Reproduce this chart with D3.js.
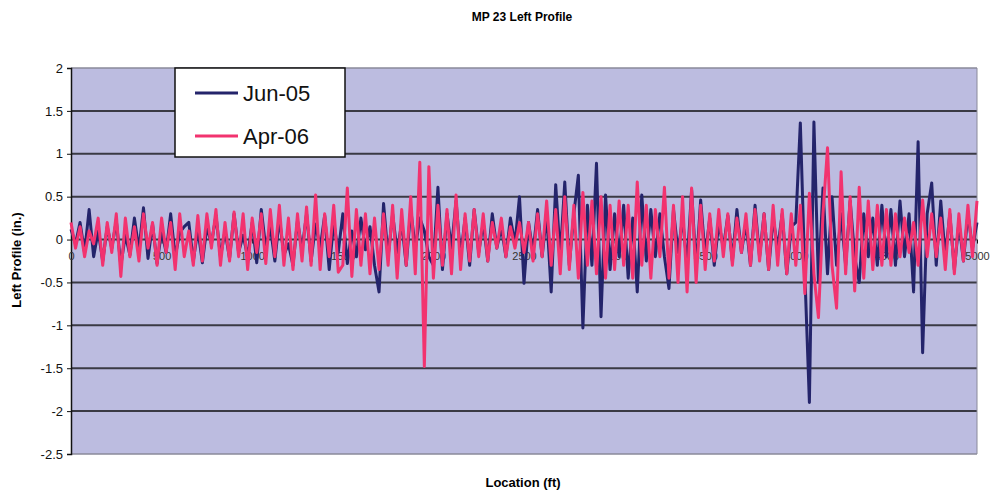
<!DOCTYPE html>
<html><head><meta charset="utf-8">
<script src="https://cdn.jsdelivr.net/npm/d3@7"></script>
<style>body{margin:0;background:#fff}svg{display:block}</style>
</head><body>
<svg id="chart" width="990" height="491"></svg>
<script>
const title = "MP 23 Left Profile";
const xTitle = "Location (ft)";
const yTitle = "Left Profile (in.)";
const seriesNames = ["Jun-05", "Apr-06"];
const xStep = 25; // ft between samples
const xTicks = [0, 500, 1000, 1500, 2000, 2500, 3000, 3500, 4000, 4500, 5000];
const yTicks = [2, 1.5, 1, 0.5, 0, -0.5, -1, -1.5, -2, -2.5];

const jun05 = [
  0.12,-0.05,0.2,-0.15,0.35,-0.2,0.1,-0.25,0.15,-0.1,
  0.22,-0.3,0.05,-0.18,0.25,-0.12,0.37,-0.22,0.18,-0.28,
  0.1,-0.15,0.3,-0.2,0.08,0.15,0.2,-0.25,0.12,-0.27,
  0.15,-0.05,0.28,-0.2,0.1,-0.22,0.3,-0.15,0.05,-0.2,
  0.2,-0.27,0.35,-0.1,0.15,-0.25,0.25,-0.18,-0.05,-0.3,
  0.22,-0.12,0.3,-0.25,0.18,-0.1,0.28,-0.35,0.2,-0.15,
  0.3,-0.28,0.1,-0.2,0.25,-0.12,0.15,-0.3,-0.61,0.42,
  -0.2,0.3,-0.15,0.2,-0.3,0.35,-0.1,0.25,0.1,-0.2,
  -0.3,0.61,-0.35,0.3,-0.1,0.45,-0.2,0.25,-0.3,0.35,
  -0.15,0.2,-0.25,0.3,-0.1,0.15,-0.2,0.25,-0.05,0.5,
  -0.51,0.2,-0.15,0.35,-0.2,0.3,-0.61,0.64,-0.2,0.67,
  -0.3,0.3,0.75,-1.03,0.4,-0.3,0.89,-0.9,0.52,-0.35,
  0.3,-0.2,0.4,-0.45,0.25,-0.61,0.52,-0.25,0.35,-0.2,
  0.3,-0.2,-0.57,0.35,-0.15,0.25,-0.3,0.58,-0.35,0.46,
  -0.2,0.25,-0.3,0.2,-0.1,0.28,-0.25,0.35,-0.15,0.2,
  -0.3,0.4,-0.2,0.3,-0.35,0.25,-0.1,0.3,-0.4,0.15,
  0.2,1.36,-0.4,-1.9,1.37,-0.5,0.6,-0.4,0.5,-0.3,
  0.3,-0.3,0.45,-0.2,-0.5,0.3,-0.2,0.25,-0.3,0.4,
  -0.2,0.35,-0.3,0.45,-0.2,0.3,-0.61,1.14,-1.32,0.3,
  0.66,-0.3,0.45,-0.2,0.3,-0.35,0.2,-0.25,0.3,-0.1,0.2
];
const apr06 = [
  0.2,-0.1,0.15,-0.2,0.1,-0.05,0.25,-0.3,0.2,-0.15,
  0.3,-0.43,0.25,-0.2,0.15,-0.25,0.3,-0.1,0.2,-0.3,
  0.25,-0.15,0.2,-0.35,0.3,-0.2,0.1,-0.3,0.28,-0.25,
  0.3,-0.1,0.35,-0.3,0.2,-0.25,0.32,-0.2,0.3,-0.35,
  0.25,-0.15,0.3,-0.28,0.35,-0.2,0.4,-0.3,0.25,-0.35,
  0.3,-0.25,0.38,-0.3,0.52,-0.35,0.3,-0.2,0.4,-0.38,
  -0.3,0.6,-0.43,0.35,-0.3,0.3,-0.4,0.25,-0.35,0.3,
  -0.3,0.4,-0.45,0.35,-0.3,0.5,-0.4,0.9,-1.48,0.85,
  -0.45,0.4,-0.3,0.35,-0.4,0.52,-0.35,0.3,-0.25,0.35,
  -0.2,0.3,-0.25,0.2,-0.1,0.25,-0.2,0.15,-0.1,0.2,
  -0.15,0.2,-0.25,0.3,-0.2,0.45,-0.3,0.35,-0.4,0.5,
  -0.35,0.4,-0.45,0.55,-0.3,0.45,-0.4,0.5,-0.45,0.4,
  -0.35,0.45,-0.3,0.4,-0.45,0.67,-0.3,0.4,-0.45,0.35,
  -0.2,0.61,-0.45,0.4,-0.5,0.5,-0.61,0.6,-0.5,0.4,
  -0.35,0.3,-0.25,0.35,-0.2,0.3,-0.3,0.25,-0.15,0.3,
  -0.3,0.35,-0.25,0.3,-0.35,0.4,-0.3,0.35,-0.4,0.3,
  -0.3,0.4,-0.63,0.54,-0.4,-0.91,0.3,1.07,-0.3,-0.8,
  0.79,-0.4,0.5,-0.6,0.61,-0.45,0.45,-0.35,0.4,-0.3,
  0.35,-0.3,0.3,-0.2,0.25,-0.15,0.2,-0.3,0.46,-0.2,
  0.3,-0.2,0.25,-0.35,0.35,-0.4,0.3,-0.25,0.4,-0.2,0.45
];

const colors = ["#24246b", "#f2336f"];
const svg = d3.select("#chart");
const m = {left: 71, right: 977, top: 68, bottom: 454};
const x = d3.scaleLinear().domain([0, 5000]).range([m.left, m.right]);
const y = d3.scaleLinear().domain([-2.5, 2]).range([m.bottom, m.top]);
const font = "'Liberation Sans', Arial, sans-serif";

// plot background
svg.append("rect").attr("x", m.left).attr("y", m.top)
  .attr("width", m.right - m.left).attr("height", m.bottom - m.top)
  .attr("fill", "#bcbce0");

// gridlines
svg.append("g").selectAll("line").data(yTicks).join("line")
  .attr("x1", m.left).attr("x2", m.right)
  .attr("y1", d => y(d)).attr("y2", d => y(d))
  .attr("stroke", d => (d === 2 || d === -2.5) ? "#8a8a9a" : "#3a3a44")
  .attr("stroke-width", d => (d === 2 || d === -2.5) ? 1.5 : 2);
svg.append("line").attr("x1", m.right).attr("x2", m.right)
  .attr("y1", m.top).attr("y2", m.bottom).attr("stroke", "#8a8a9a");

// y axis
const yAxis = d3.axisLeft(y).tickValues(yTicks).tickSize(4).tickPadding(4)
  .tickFormat(d => String(d));
const yg = svg.append("g").attr("transform", `translate(${m.left},0)`).call(yAxis);
yg.select(".domain").attr("stroke", "#111").attr("stroke-width", 1.5);
yg.selectAll(".tick line").attr("stroke", "#111");
yg.selectAll("text").attr("font-family", font).attr("font-size", 13).attr("fill", "#111");

// x axis at y=0
const xAxis = d3.axisBottom(x).tickValues(xTicks).tickSize(4).tickPadding(9)
  .tickFormat(d => String(d));
const xg = svg.append("g").attr("transform", `translate(0,${y(0)})`).call(xAxis);
xg.select(".domain").remove();
xg.selectAll(".tick line").attr("stroke", "#111");
xg.selectAll("text").attr("font-family", font).attr("font-size", 11).attr("fill", "#333");

// lines
const line = d3.line().x((d, i) => x(i * xStep)).y(d => y(d));
[jun05, apr06].forEach((s, k) => {
  svg.append("path").datum(s).attr("d", line)
    .attr("fill", "none").attr("stroke", colors[k])
    .attr("stroke-width", 3).attr("stroke-linejoin", "round");
});

// legend
const lg = svg.append("g");
lg.append("rect").attr("x", 175).attr("y", 68).attr("width", 170).attr("height", 89)
  .attr("fill", "#fff").attr("stroke", "#111").attr("stroke-width", 1.5);
seriesNames.forEach((n, k) => {
  const cy = 93 + k * 43;
  lg.append("line").attr("x1", 195).attr("x2", 238).attr("y1", cy).attr("y2", cy)
    .attr("stroke", colors[k]).attr("stroke-width", 3);
  lg.append("text").attr("x", 243).attr("y", cy + 8).text(n)
    .attr("font-family", font).attr("font-size", 22).attr("fill", "#111");
});

// titles
svg.append("text").attr("x", 522).attr("y", 21).attr("text-anchor", "middle")
  .attr("font-family", font).attr("font-weight", "bold").attr("font-size", 12).text(title);
svg.append("text").attr("x", 523).attr("y", 487).attr("text-anchor", "middle")
  .attr("font-family", font).attr("font-weight", "bold").attr("font-size", 13).text(xTitle);
svg.append("text").attr("transform", "translate(21,260) rotate(-90)").attr("text-anchor", "middle")
  .attr("font-family", font).attr("font-weight", "bold").attr("font-size", 13).text(yTitle);
</script>
</body></html>
